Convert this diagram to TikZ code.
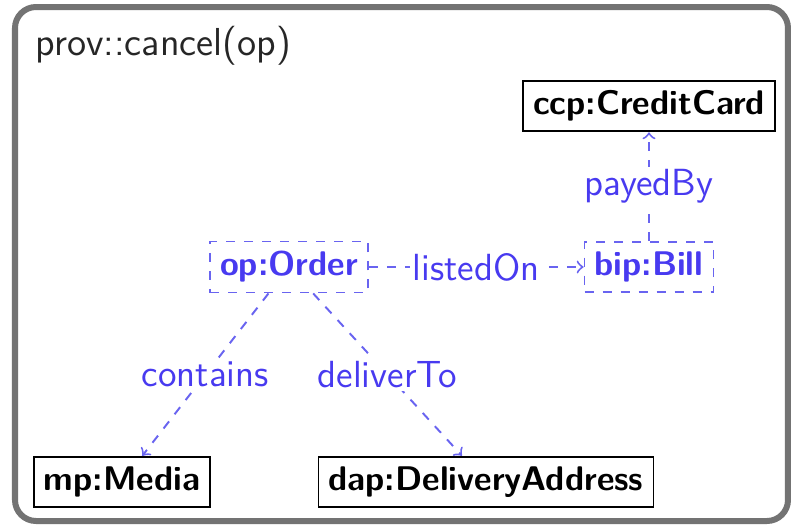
\documentclass[tikz,border=0pt]{standalone}
\usepackage{tikz}
\usetikzlibrary{calc}
\definecolor{linkblue}{RGB}{72,58,240}
\definecolor{dashblue}{RGB}{105,100,240}
\definecolor{framegray}{RGB}{115,115,115}
\tikzset{
	obj/.style={draw=black, line width=0.6pt, font=\sffamily\bfseries\fontsize{11.4}{13}\selectfont, fill=white},
	var/.style={draw=dashblue, dashed, line width=0.6pt, text=linkblue, font=\sffamily\bfseries\fontsize{11.4}{13}\selectfont},
	rel/.style={->, dashed, draw=dashblue, line width=0.65pt},
	rellabel/.style={fill=white, text=linkblue, font=\sffamily\fontsize{12.6}{15}\selectfont, inner sep=1pt}
}
\begin{document}
\begin{tikzpicture}[x=0.3333pt, y=-0.3333pt]
			%%%%% START %%%%%
			\useasboundingbox (0, 0) rectangle (792, 525);
			\draw[framegray, line width=2pt, rounded corners=7pt] (15, 7) rectangle (788, 521);
			\node[anchor=west, font=\sffamily\fontsize{13}{16}\selectfont, text=black!85] (title) at (25, 46) {prov::cancel(op)};
			
			\node[obj] (ccp) at (649, 106) {ccp:CreditCard};
			\node[var] (op) at (289, 267) {op:Order};
			\node[var] (bip) at (649, 267) {bip:Bill};
			\node[obj] (mp) at (122, 482) {mp:Media};
			\node[obj] (dap) at (486, 482) {dap:DeliveryAddress};
			
			\draw[rel] (op) -- node[rellabel] {listedOn} (bip);
			\draw[rel] (bip) -- node[rellabel] {payedBy} (ccp);
			\draw[rel] (op) -- node[rellabel] {contains} (mp);
			\draw[rel] (op) -- node[rellabel] {deliverTo} (dap);
			%%%%% END %%%%%
\end{tikzpicture}
\end{document}
